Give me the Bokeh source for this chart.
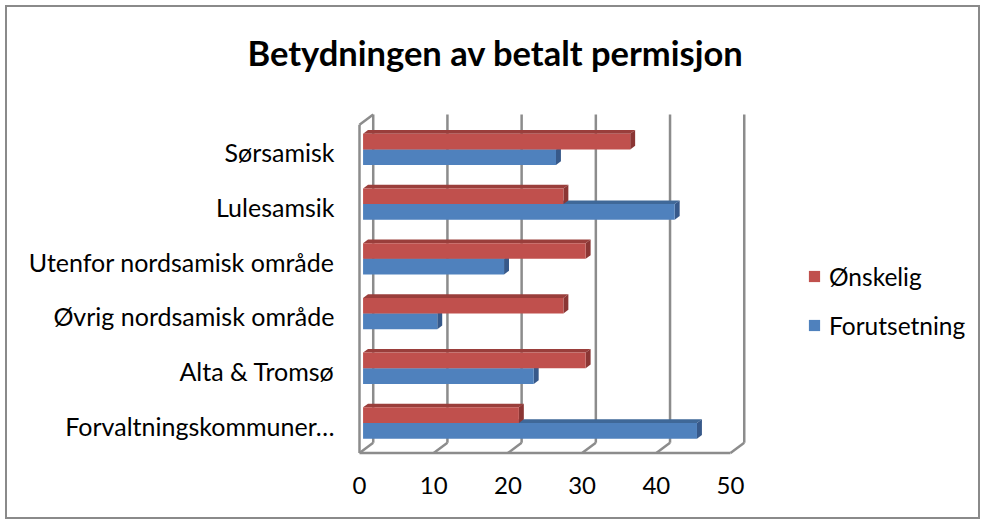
from bokeh.plotting import figure
from bokeh.models import Range1d, FixedTicker, Legend, LegendItem
from bokeh.embed import file_html
from bokeh.resources import INLINE

# ---- data (bottom to top) ----
categories = ["Forvaltningskommuner…", "Alta & Tromsø", "Øvrig nordsamisk område",
              "Utenfor nordsamisk område", "Lulesamsik", "Sørsamisk"]
onskelig = [21, 30, 27, 30, 27, 36]
forutsetning = [45, 23, 10, 19, 42, 26]
x_ticks = [0, 10, 20, 30, 40, 50]
series_names = ["Ønskelig", "Forutsetning"]
title_text = "Betydningen av betalt permisjon"

# ---- styling / pseudo-3D geometry ----
FONT = "Lato"
DX, DY = 1.85, 0.188          # depth offset of the back wall (data units)
BAR_OFF, BAR_DEPTH = 0.26, 0.36
BAR_H = 0.286
GRID = "#8C8C8C"
BORDER = "#8A8A8A"
RED, RED_TOP, RED_SIDE = "#C0504D", "#9A3E3B", "#8B3634"
BLUE, BLUE_TOP, BLUE_SIDE = "#4F81BD", "#3F6898", "#37598A"

n = len(categories)
xmax = x_ticks[-1]

p = figure(width=975, height=519, output_backend="svg", toolbar_location=None,
           x_range=Range1d(-0.539, 83.69), y_range=Range1d(-0.6367, 5.833),
           min_border_left=350, min_border_right=0, min_border_top=105, min_border_bottom=59)
grad = f"linear-gradient({BORDER}, {BORDER})"
p.styles = {
    "margin-left": "5px", "margin-top": "0px",
    "background-color": "white",
    "background-image": ", ".join([grad] * 4),
    "background-size": "100% 2px, 2px calc(100% - 5px), 2px calc(100% - 5px), 100% 2px",
    "background-position": "0 5px, 0 5px, 100% 5px, 0 100%",
    "background-repeat": "no-repeat",
}
p.grid.visible = False
p.outline_line_color = None
p.background_fill_color = None
p.border_fill_color = None

# ---- walls / gridlines ----
bottom = -0.5
top = n - 0.5
p.segment(x0=[v + DX for v in x_ticks], y0=[bottom + DY] * len(x_ticks),
          x1=[v + DX for v in x_ticks], y1=[top + DY] * len(x_ticks),
          line_color=GRID, line_width=2.5)
p.segment(x0=[v + DX for v in x_ticks], y0=[bottom + DY] * len(x_ticks),
          x1=x_ticks, y1=[bottom] * len(x_ticks), line_color=GRID, line_width=2.5)
p.segment(x0=[0, 0, 0], y0=[bottom, bottom, top], x1=[xmax, 0, DX], y1=[bottom, top, top + DY],
          line_color=GRID, line_width=2.5)

# ---- bars ----
ox, oy = BAR_OFF * DX, BAR_OFF * DY
bx, by = BAR_DEPTH * DX, BAR_DEPTH * DY


def bar_faces(values, lower):
    L, R, B, T = [], [], [], []
    for i, v in enumerate(values):
        b = i + oy - (BAR_H if lower else 0)
        L.append(ox)
        R.append(v + ox)
        B.append(b)
        T.append(b + BAR_H)
    top_xs = [[l, r, r + bx, l + bx] for l, r in zip(L, R)]
    top_ys = [[t, t, t + by, t + by] for t in T]
    side_xs = [[r, r + bx, r + bx, r] for r in R]
    side_ys = [[b, b + by, t + by, t] for b, t in zip(B, T)]
    return L, R, B, T, top_xs, top_ys, side_xs, side_ys


def draw(values, lower, c_front, c_top, c_side):
    L, R, B, T, txs, tys, sxs, sys_ = bar_faces(values, lower)
    p.patches(xs=txs, ys=tys, fill_color=c_top, line_color=None)
    p.patches(xs=sxs, ys=sys_, fill_color=c_side, line_color=None)
    return p.quad(left=L, right=R, bottom=B, top=T, fill_color=c_front, line_color=None)


r_blue = draw(forutsetning, True, BLUE, BLUE_TOP, BLUE_SIDE)
r_red = draw(onskelig, False, RED, RED_TOP, RED_SIDE)

# ---- axes ----
p.xaxis.ticker = FixedTicker(ticks=x_ticks)
p.yaxis.ticker = FixedTicker(ticks=list(range(n)))
p.yaxis.major_label_overrides = {i: c for i, c in enumerate(categories)}
for ax in (p.xaxis, p.yaxis):
    ax.axis_line_color = None
    ax.major_tick_line_color = None
    ax.minor_tick_line_color = None
    ax.major_label_text_font = FONT
    ax.major_label_text_color = "black"
p.xaxis.major_label_text_font_size = "24px"
p.xaxis.major_label_standoff = 10
p.yaxis.major_label_text_font_size = "25px"
p.yaxis.major_label_standoff = 15

# ---- title ----
p.title.text = title_text
p.title.align = "left"
p.title.vertical_align = "top"
p.title.offset = -108
p.title.standoff = 63
p.title.text_font = FONT
p.title.text_font_style = "bold"
p.title.text_font_size = "34.5px"
p.title.text_color = "black"

# ---- legend ----
legend = Legend(items=[LegendItem(label=series_names[0], renderers=[r_red]),
                       LegendItem(label=series_names[1], renderers=[r_blue])],
                location=(452, 120), orientation="vertical",
                glyph_width=14, glyph_height=14, label_standoff=8,
                label_height=30, spacing=19, padding=0, margin=0,
                border_line_color=None, background_fill_alpha=0,
                label_text_font=FONT, label_text_font_size="24.5px", label_text_color="black")
p.add_layout(legend)

open("out.html", "w").write(file_html(p, INLINE))
